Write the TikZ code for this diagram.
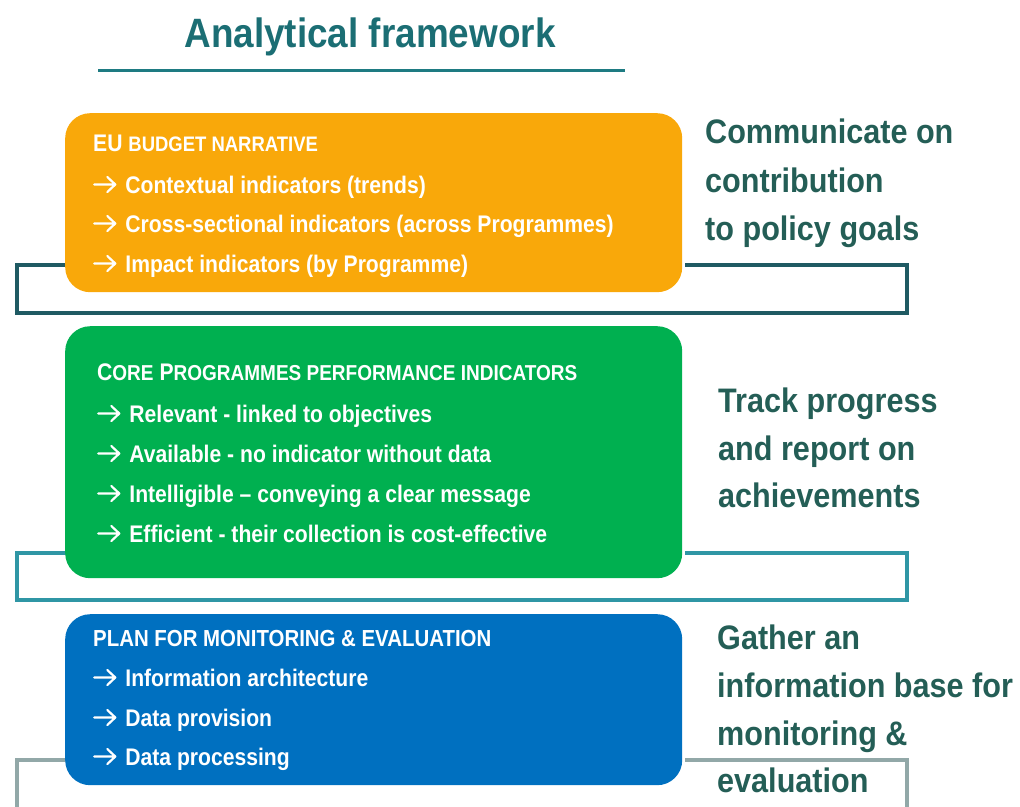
\documentclass[tikz,border=0pt]{standalone}
\usepackage{fontspec}
\newfontfamily\cond[FakeStretch=0.88]{Liberation Sans}
\newfontfamily\condside[FakeStretch=0.9]{Liberation Sans}
\definecolor{cOrange}{RGB}{249,168,10}
\definecolor{cGreen}{RGB}{0,176,80}
\definecolor{cBlue}{RGB}{0,112,192}
\definecolor{cTitle}{RGB}{27,110,116}
\definecolor{cRule}{RGB}{30,123,130}
\definecolor{cSide}{RGB}{36,94,86}
\definecolor{cBrA}{RGB}{31,90,99}
\definecolor{cBrB}{RGB}{47,150,165}
\definecolor{cBrC}{RGB}{146,168,168}
\newcommand{\smc}[1]{{\fontsize{21}{24}\selectfont #1}}
\newcommand{\smcb}[1]{{\fontsize{21.6}{24}\selectfont #1}}
\newcommand{\myarr}{\tikz[baseline=0pt,x=1pt,y=1pt]\draw[white,line width=2.2pt,line cap=round,line join=round] (0,8.5)--(21,8.5) (13,1)--(21,8.5)--(13,16);\hspace{9pt}}
\begin{document}
\begin{tikzpicture}[x=1pt,y=-1pt,
  panel/.style={draw=none,rounded corners=25pt,anchor=north west,minimum width=617pt,inner sep=0pt},
  intext/.style={anchor=base west,inner sep=0pt,text=white,font=\cond\bfseries\fontsize{24}{26}\selectfont},
  side/.style={anchor=base west,inner sep=0pt,text=cSide,font=\condside\bfseries\fontsize{34}{40}\selectfont},
  brack/.style={line width=3.5pt,line join=miter}]
\useasboundingbox (0,0) rectangle (1020,806);
% title
\node[anchor=base,inner sep=0pt,text=cTitle,font=\condside\bfseries\fontsize{41}{46}\selectfont] (title) at (370,47) {Analytical framework};
\coordinate (ruleL) at (98,70);
\coordinate (ruleR) at (625,70);
\draw[cRule,line width=3pt] (ruleL) -- (ruleR);
% brackets
\coordinate (a1) at (70,265); \coordinate (a2) at (17,265); \coordinate (a3) at (17,313);
\coordinate (a4) at (907,313); \coordinate (a5) at (907,265); \coordinate (a6) at (685,265);
\draw[brack,cBrA] (a1) -- (a2) -- (a3) -- (a4) -- (a5) -- (a6);
\coordinate (b1) at (70,553); \coordinate (b2) at (17,553); \coordinate (b3) at (17,600);
\coordinate (b4) at (907,600); \coordinate (b5) at (907,553); \coordinate (b6) at (685,553);
\draw[brack,cBrB] (b1) -- (b2) -- (b3) -- (b4) -- (b5) -- (b6);
\coordinate (c1) at (70,760); \coordinate (c2) at (17,760); \coordinate (c3) at (17,810);
\coordinate (c4) at (907,810); \coordinate (c5) at (907,760); \coordinate (c6) at (685,760);
\draw[brack,cBrC] (c1) -- (c2) -- (c3);
\draw[brack,cBrC] (c4) -- (c5) -- (c6);
% panels
\node[panel,fill=cOrange,minimum height=179pt] (nar) at (65,113) {};
\node[panel,fill=cGreen,minimum height=252pt] (core) at (65,326) {};
\node[panel,fill=cBlue,minimum height=171pt] (plan) at (65,614) {};
% orange text
\node[intext] (n0) at (93,151) {EU \smc{BUDGET NARRATIVE}};
\node[intext] (n1) at (93,193) {\myarr Contextual indicators (trends)};
\node[intext] (n2) at (93,232) {\myarr Cross-sectional indicators (across Programmes)};
\node[intext] (n3) at (93,272) {\myarr Impact indicators (by Programme)};
% green text
\node[intext] (g0) at (97,380) {C\smcb{ORE} P\smcb{ROGRAMMES PERFORMANCE INDICATORS}};
\node[intext] (g1) at (97,422) {\myarr Relevant - linked to objectives};
\node[intext] (g2) at (97,462) {\myarr Available - no indicator without data};
\node[intext] (g3) at (97,502) {\myarr Intelligible – conveying a clear message};
\node[intext] (g4) at (97,542) {\myarr Efficient - their collection is cost-effective};
% blue text
\node[intext,font=\cond\bfseries\fontsize{23.2}{26}\selectfont] (p0) at (93,646) {PLAN FOR MONITORING \& EVALUATION};
\node[intext] (p1) at (93,686) {\myarr Information architecture};
\node[intext] (p2) at (93,726) {\myarr Data provision};
\node[intext] (p3) at (93,765) {\myarr Data processing};
% side texts
\node[side] (s1) at (705,143) {Communicate on};
\node[side] (s2) at (705,192) {contribution};
\node[side] (s3) at (705,240) {to policy goals};
\node[side] (t1) at (718,412) {Track progress};
\node[side] (t2) at (718,460) {and report on};
\node[side] (t3) at (718,507) {achievements};
\node[side] (u1) at (717,649) {Gather an};
\node[side] (u2) at (717,697) {information base for};
\node[side] (u3) at (717,745) {monitoring \&};
\node[side] (u4) at (717,792) {evaluation};
\end{tikzpicture}
\end{document}
